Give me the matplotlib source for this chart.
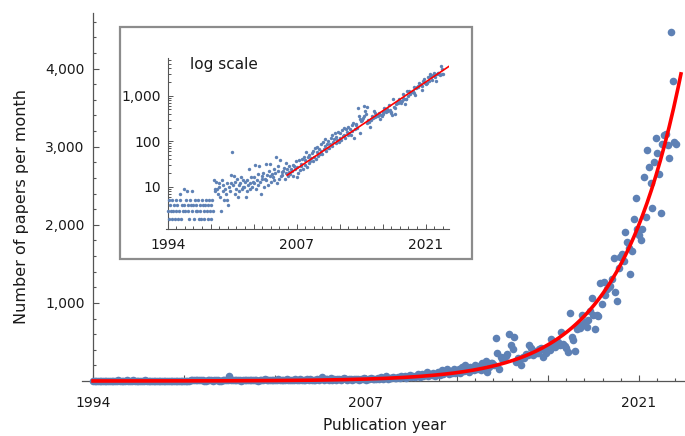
import numpy as np
import matplotlib.pyplot as plt
from matplotlib.patches import Rectangle
from matplotlib.ticker import FixedLocator, MultipleLocator, NullFormatter

# monthly paper counts, Jan 1994 onwards
papers_1994_1998 = [
    3, 5, 2, 4, 3, 5, 2, 3, 4, 2, 5, 3,
    4, 2, 3, 7, 5, 2, 4, 3, 9, 4, 3, 5,
    8, 3, 4, 2, 5, 4, 3, 8, 4, 2, 5, 3,
    4, 3, 5, 2, 4, 3, 2, 5, 4, 3, 2, 4,
    5, 3, 2, 4, 5, 3, 4, 2, 5, 3, 14, 9,
]
papers_1999_2003 = [
    8, 13, 9, 7, 12, 10, 6, 3, 14, 8, 11, 5,
    9, 7, 12, 5, 4, 10, 8, 12, 18, 59, 11, 17,
    13, 7, 9, 15, 6, 11, 8, 12, 16, 9, 14, 10,
    10, 13, 6, 8, 14, 11, 25, 9, 12, 16, 10, 13,
    12, 16, 30, 9, 14, 11, 19, 28, 13, 7, 17, 15,
]
papers_2004_2008 = [
    20, 10, 15, 32, 14, 18, 11, 22, 17, 31, 13, 19,
    16, 25, 14, 20, 46, 12, 22, 28, 15, 39, 17, 21,
    18, 22, 26, 15, 20, 33, 24, 17, 28, 21, 19, 25,
    22, 30, 17, 28, 24, 36, 16, 27, 20, 38, 23, 31,
    28, 40, 25, 46, 30, 38, 58, 27, 44, 33, 50, 36,
]
papers_2009_2013 = [
    42, 55, 36, 62, 45, 70, 40, 58, 75, 48, 66, 52,
    60, 85, 52, 95, 66, 78, 110, 62, 88, 72, 100, 70,
    85, 120, 78, 135, 95, 110, 150, 90, 125, 105, 160, 98,
    118, 150, 105, 175, 130, 200, 140, 115, 185, 160, 135, 210,
    150, 190, 140, 230, 165, 250, 119, 183, 234, 227, 200, 547,
]
papers_2014_2018 = [
    355, 150, 311, 280, 291, 320, 350, 602, 461, 406, 567, 247,
    291, 260, 205, 310, 291, 350, 330, 461, 423, 333, 380, 355,
    360, 406, 420, 311, 380, 355, 440, 397, 534, 470, 430, 491,
    500, 461, 631, 480, 450, 419, 375, 867, 560, 525, 388, 662,
    717, 680, 845, 730, 760, 695, 781, 900, 1067, 850, 662, 845,
]
papers_2019_2022 = [
    832, 1259, 986, 1272, 1100, 1174, 1200, 1216, 1300, 1571, 1143, 1024,
    1450, 1584, 1620, 1540, 1912, 1784, 1700, 1370, 1665, 2074, 2339, 1942,
    1869, 1805, 1942, 2608, 2100, 2958, 2736, 2539, 2211, 2808, 3107, 2915,
    2650, 2155, 3035, 3150, 3162, 3022, 2851, 4465, 3841, 3064, 3035,
]

# exponential fit
fit_at_2021 = 2000
fit_rate = 0.325  # per year

year_labels = ["1994", "2007", "2021"]
y_ticks_main = [1000, 2000, 3000, 4000]
y_ticks_log = [10, 100, 1000]

papers = np.array(papers_1994_1998 + papers_1999_2003 + papers_2004_2008
                  + papers_2009_2013 + papers_2014_2018 + papers_2019_2022)
t = 1994 + np.arange(len(papers)) / 12


def fit(x):
    return fit_at_2021 * np.exp(fit_rate * (x - 2021))


blue = "#5e81b5"
axcol = "#555555"
txt = "#1a1a1a"
W, H = 685, 436

# the labelled years sit on evenly spaced major ticks (every 4.5 units)
major_step = 4.5
major_pos = 1994 + major_step * np.arange(7)
label_pos = list(major_pos[::3])
minor_pos = 1994 + 0.9 * np.arange(35)
x_labels = [year_labels[label_pos.index(p)] if p in label_pos else "" for p in major_pos]

fig = plt.figure(figsize=(W / 100, H / 100), dpi=100)

# ---- main plot
ax = fig.add_axes([82 / W, 55 / H, 603 / W, 368 / H])
ax.set_xlim(1993.456, 2023.28)
ax.set_ylim(0, 4712)
ax.spines[["top", "right"]].set_visible(False)
ax.spines["left"].set_position(("data", 1994))
for s in ["left", "bottom"]:
    ax.spines[s].set_color(axcol)
    ax.spines[s].set_linewidth(0.9)

ax.scatter(t, papers, s=30, color=blue, linewidths=0, clip_on=False, zorder=3)
tf = np.linspace(1994, 2023.08, 400)
ax.plot(tf, fit(tf), color="red", lw=2.6, zorder=4, clip_on=False)

ax.yaxis.set_major_locator(FixedLocator(y_ticks_main))
ax.set_yticklabels([f"{v:,}" for v in y_ticks_main])
ax.yaxis.set_minor_locator(MultipleLocator(200))
ax.xaxis.set_major_locator(FixedLocator(major_pos))
ax.set_xticklabels(x_labels)
ax.xaxis.set_minor_locator(FixedLocator(minor_pos))
ax.tick_params(which="both", direction="in", color=axcol, width=0.8,
               labelsize=10, labelcolor=txt)
ax.tick_params(which="major", length=4.5)
ax.tick_params(which="minor", length=2.5)
ax.tick_params(axis="y", pad=6)
ax.tick_params(axis="x", pad=11)

fig.text(385 / W, 1 - 425 / H, "Publication year", ha="center", va="center",
         fontsize=11, color=txt)
fig.text(22 / W, 1 - 206 / H, "Number of papers per month", ha="center",
         va="center", rotation=90, fontsize=11.5, color=txt)

# ---- inset
frame = Rectangle((120 / W, 1 - 259 / H), 352 / W, 232 / H, transform=fig.transFigure,
                  facecolor="white", edgecolor="#8c8c8c", lw=1.6, zorder=5)
fig.add_artist(frame)

ins = fig.add_axes([165.8 / W, 1 - 229.3 / H, 283.2 / W, 171.3 / H], zorder=6)
ins.patch.set_alpha(0)
ins.set_yscale("log")
ins.set_xlim(1993.8, 2023.45)
ins.set_ylim(1.16, 6760)
ins.spines[["top", "right"]].set_visible(False)
ins.spines["left"].set_position(("data", 1994))
for s in ["left", "bottom"]:
    ins.spines[s].set_color(axcol)
    ins.spines[s].set_linewidth(0.8)

ins.scatter(t, papers, s=6, color=blue, linewidths=0, zorder=3)
ti = np.linspace(2006.5, 2023.45, 100)
ins.plot(ti, fit(ti), color="red", lw=1.2, zorder=4)

ins.yaxis.set_major_locator(FixedLocator(y_ticks_log))
ins.set_yticklabels([f"{v:,}" for v in y_ticks_log])
ins.yaxis.set_minor_formatter(NullFormatter())
ins.xaxis.set_major_locator(FixedLocator(major_pos))
ins.set_xticklabels(x_labels)
ins.xaxis.set_minor_locator(FixedLocator(minor_pos))
ins.tick_params(which="both", direction="in", color=axcol, width=0.7,
                labelsize=10, labelcolor=txt)
ins.tick_params(which="major", length=3.5)
ins.tick_params(which="minor", length=2)
ins.tick_params(axis="y", pad=5)
ins.tick_params(axis="x", pad=6)

fig.text(190 / W, 1 - 64 / H, "log scale", ha="left", va="center",
         fontsize=11, color=txt, zorder=7)

fig.savefig("out.png", dpi=100)
